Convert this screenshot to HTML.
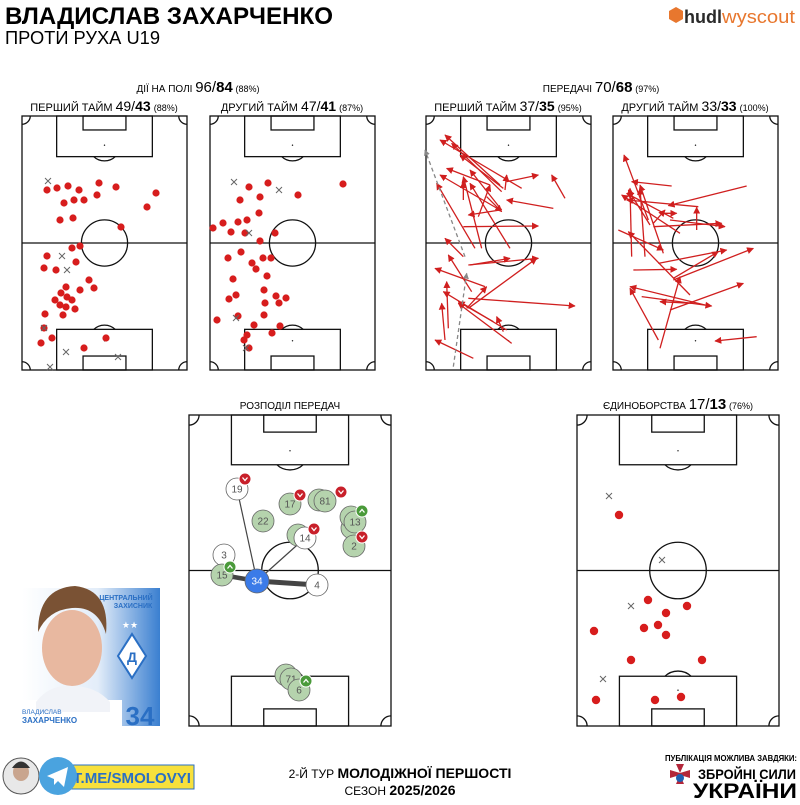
<!DOCTYPE html>
<html><head><meta charset="utf-8">
<style>
html,body{margin:0;padding:0;background:#fff;}
body{width:800px;height:800px;overflow:hidden;position:relative;font-family:"Liberation Sans","Noto Sans CJK SC",sans-serif;color:#111;}
svg text{font-family:"Liberation Sans",sans-serif;}
</style></head><body>
<svg id="s" width="800" height="800" viewBox="0 0 800 800" xmlns="http://www.w3.org/2000/svg">
<defs>
<marker id="ar" viewBox="0 0 10 10" refX="9" refY="5" markerWidth="7" markerHeight="7" markerUnits="userSpaceOnUse" orient="auto"><path d="M0,0L10,5L0,10z" fill="#d01f1f"/></marker>
<marker id="ag" viewBox="0 0 10 10" refX="9" refY="5" markerWidth="6" markerHeight="6" markerUnits="userSpaceOnUse" orient="auto"><path d="M0,0L10,5L0,10z" fill="#888"/></marker>
<linearGradient id="cardg" x1="0" y1="0" x2="1" y2="0"><stop offset="0" stop-color="#ffffff"/><stop offset="0.55" stop-color="#e3edf9"/><stop offset="1" stop-color="#3a7fd0"/></linearGradient>
</defs>
<!-- header -->
<text x="5" y="24" font-size="24" font-weight="bold" textLength="328" lengthAdjust="spacingAndGlyphs">ВЛАДИСЛАВ ЗАХАРЧЕНКО</text>
<text x="5" y="44" font-size="18" textLength="155" lengthAdjust="spacingAndGlyphs">ПРОТИ РУХА U19</text>
<path d="M669,11 l7,-4 l7,4 v8 l-7,4 l-7,-4z" fill="#e8772e"/>
<text x="684" y="23" font-size="18" font-weight="bold" fill="#2a2a2a">hudl</text>
<text x="722" y="23" font-size="18" fill="#e8772e" textLength="73" lengthAdjust="spacingAndGlyphs">wyscout</text>

<!-- section titles -->
<text x="198" y="92" text-anchor="middle" font-size="10">ДІЇ НА ПОЛІ <tspan font-size="15">96/</tspan><tspan font-size="15" font-weight="bold">84</tspan> <tspan font-size="9">(88%)</tspan></text>
<text x="104" y="111" text-anchor="middle" font-size="11">ПЕРШИЙ ТАЙМ <tspan font-size="14">49/</tspan><tspan font-size="14" font-weight="bold">43</tspan> <tspan font-size="9">(88%)</tspan></text>
<text x="292" y="111" text-anchor="middle" font-size="11">ДРУГИЙ ТАЙМ <tspan font-size="14">47/</tspan><tspan font-size="14" font-weight="bold">41</tspan> <tspan font-size="9">(87%)</tspan></text>
<text x="601" y="92" text-anchor="middle" font-size="10">ПЕРЕДАЧІ <tspan font-size="15">70/</tspan><tspan font-size="15" font-weight="bold">68</tspan> <tspan font-size="9">(97%)</tspan></text>
<text x="508" y="111" text-anchor="middle" font-size="11">ПЕРШИЙ ТАЙМ <tspan font-size="14">37/</tspan><tspan font-size="14" font-weight="bold">35</tspan> <tspan font-size="9">(95%)</tspan></text>
<text x="695" y="111" text-anchor="middle" font-size="11">ДРУГИЙ ТАЙМ <tspan font-size="14">33/</tspan><tspan font-size="14" font-weight="bold">33</tspan> <tspan font-size="9">(100%)</tspan></text>
<text x="290" y="409" text-anchor="middle" font-size="10">РОЗПОДІЛ ПЕРЕДАЧ</text>
<text x="678" y="409" text-anchor="middle" font-size="10">ЄДИНОБОРСТВА <tspan font-size="15">17/</tspan><tspan font-size="15" font-weight="bold">13</tspan> <tspan font-size="9">(76%)</tspan></text>

<g id="pitches"></g>
<g id="marks"></g>

<!-- pass network -->
<g id="net" font-size="10" text-anchor="middle"></g>

<!-- player card -->
<g>
<rect x="22" y="588" width="138" height="138" fill="url(#cardg)"/>
<rect x="22" y="700" width="100" height="26" fill="#fff"/>
<ellipse cx="72" cy="648" rx="30" ry="38" fill="#e8b8a0"/>
<path d="M38,632 Q38,588 75,586 Q110,590 106,634 Q98,606 72,608 Q48,610 38,632z" fill="#7a5234"/>
<path d="M36,702 Q50,684 72,686 Q96,686 110,702 L110,712 L36,712z" fill="#f1f3f8"/>
<text x="126" y="600" font-size="7" fill="#2a6fc4" text-anchor="middle" font-weight="bold">ЦЕНТРАЛЬНИЙ</text>
<text x="133" y="608" font-size="7" fill="#2a6fc4" text-anchor="middle" font-weight="bold">ЗАХИСНИК</text>
<path d="M132,634 L146,656 L132,678 L118,656z" fill="#fff" stroke="#2a6fc4" stroke-width="2"/>
<text x="132" y="662" font-size="14" fill="#2a6fc4" text-anchor="middle" font-weight="bold">Д</text>
<text x="130" y="628" font-size="9" fill="#fff" text-anchor="middle">★★</text>
<text x="22" y="714" font-size="6.5" fill="#2a6fc4">ВЛАДИСЛАВ</text>
<text x="22" y="723" font-size="8" fill="#2a6fc4" font-weight="bold">ЗАХАРЧЕНКО</text>
<text x="140" y="725" font-size="26" fill="#2a6fc4" text-anchor="middle" font-weight="bold">34</text>
</g>

<!-- footer -->
<circle cx="21" cy="776" r="18" fill="#e8e8e8" stroke="#555"/>
<ellipse cx="21" cy="772" rx="8" ry="9" fill="#c9a58e"/>
<path d="M12,768 Q21,755 30,768z" fill="#333"/>
<rect x="62" y="765" width="132" height="24" fill="#f7e03c" stroke="#2a6fc4" stroke-width="1"/>
<text x="132" y="783" font-size="15" font-weight="bold" fill="#2a6fc4" text-anchor="middle" textLength="118" lengthAdjust="spacingAndGlyphs">T.ME/SMOLOVYI</text>
<circle cx="58" cy="776" r="19" fill="#4aa3df"/>
<path d="M47,776 L68,767 L64,787 L58,781 L54,785 L54,779z" fill="#fff"/>
<text x="400" y="778" font-size="12" text-anchor="middle">2-Й ТУР <tspan font-weight="bold" font-size="14">МОЛОДІЖНОЇ ПЕРШОСТІ</tspan></text>
<text x="400" y="795" font-size="12" text-anchor="middle">СЕЗОН <tspan font-weight="bold" font-size="14">2025/2026</tspan></text>
<text x="797" y="761" font-size="8" font-weight="bold" text-anchor="end" textLength="132" lengthAdjust="spacingAndGlyphs">ПУБЛІКАЦІЯ МОЖЛИВА ЗАВДЯКИ:</text>
<path d="M676,764 h8 l-4,9 l10,-3 v8 l-10,-3 l4,9 h-8 l4,-9 l-10,3 v-8 l10,3z" fill="#b3263a"/>
<circle cx="680" cy="778" r="4" fill="#1f5fb0"/>
<text x="698" y="779" font-size="14" font-weight="bold" textLength="98" lengthAdjust="spacingAndGlyphs">ЗБРОЙНІ СИЛИ</text>
<text x="693" y="798" font-size="21" font-weight="bold" textLength="104" lengthAdjust="spacingAndGlyphs">УКРАЇНИ</text>
</svg>
<script>
const NS="http://www.w3.org/2000/svg";
const P=document.getElementById('pitches'),M=document.getElementById('marks'),N=document.getElementById('net');
function el(par,t,a){const e=document.createElementNS(NS,t);for(const k in a)e.setAttribute(k,a[k]);par.appendChild(e);return e;}
let cid=0;
function pitch(x,y,w,h){
 const id='c'+(cid++);
 const cp=el(el(P,'defs',{}),'clipPath',{id:id});el(cp,'rect',{x:x,y:y,width:w,height:h});
 const g=el(P,'g',{fill:'none',stroke:'#111','stroke-width':1.3});
 const g2=el(g,'g',{'clip-path':'url(#'+id+')'});
 const c=0.05*w;
 [[x,y],[x+w,y],[x,y+h],[x+w,y+h]].forEach(p=>el(g2,'circle',{cx:p[0],cy:p[1],r:c}));
 const cx=x+w/2,ar=0.095*w;
 el(g,'circle',{cx:cx,cy:y+0.115*h,r:ar});
 el(g,'circle',{cx:cx,cy:y+h-0.115*h,r:ar});
 const bx=x+0.21*w,bw=0.58*w,bh=0.16*h,sx=x+0.37*w,sw=0.26*w,sh=0.055*h;
 el(g,'rect',{x:bx,y:y,width:bw,height:bh,fill:'#fff'});
 el(g,'rect',{x:bx,y:y+h-bh,width:bw,height:bh,fill:'#fff'});
 el(g,'rect',{x:sx,y:y,width:sw,height:sh});
 el(g,'rect',{x:sx,y:y+h-sh,width:sw,height:sh});
 el(g,'circle',{cx:cx,cy:y+0.115*h,r:0.7,fill:'#111',stroke:'none'});
 el(g,'circle',{cx:cx,cy:y+h-0.115*h,r:0.7,fill:'#111',stroke:'none'});
 el(g,'line',{x1:x,y1:y+h/2,x2:x+w,y2:y+h/2});
 el(g,'circle',{cx:cx,cy:y+h/2,r:0.14*w});
 el(g,'rect',{x:x,y:y,width:w,height:h});
}
pitch(22,116,165,254);pitch(210,116,165,254);pitch(426,116,165,254);pitch(613,116,165,254);
pitch(189,415,202,311);pitch(577,415,202,311);

function dots(a,r){a.forEach(p=>el(M,'circle',{cx:p[0],cy:p[1],r:r||3.6,fill:'#d71d1d'}));}
function crosses(a){a.forEach(p=>{const s=3;el(M,'path',{d:`M${p[0]-s},${p[1]-s}L${p[0]+s},${p[1]+s}M${p[0]+s},${p[1]-s}L${p[0]-s},${p[1]+s}`,stroke:'#666','stroke-width':1,fill:'none'});});}
dots([[47,190],[57,188],[68,186],[79,190],[99,183],[116,187],[97,195],[64,203],[74,200],[84,200],[156,193],[147,207],[60,220],[73,218],[121,227],[47,256],[72,248],[80,246],[76,262],[44,268],[56,270],[89,280],[94,288],[80,290],[66,287],[61,293],[67,297],[72,300],[55,300],[60,305],[66,307],[75,309],[63,315],[45,314],[44,328],[41,343],[84,348],[106,338],[52,338]]);
crosses([[48,181],[62,256],[67,270],[44,328],[66,352],[118,357],[50,367]]);
dots([[268,183],[249,187],[260,197],[240,200],[343,184],[298,195],[259,213],[247,220],[238,222],[223,223],[213,228],[231,232],[245,233],[275,233],[260,241],[241,252],[228,258],[263,258],[271,258],[252,263],[256,269],[267,276],[233,279],[236,295],[264,290],[276,296],[279,303],[265,303],[286,298],[238,316],[244,340],[264,315],[254,325],[280,326],[272,333],[217,320],[229,299],[249,348],[247,335]]);
crosses([[234,182],[279,190],[249,233],[246,348],[236,318]]);
dots([[619,515],[648,600],[687,606],[666,613],[594,631],[644,628],[658,625],[666,635],[631,660],[702,660],[596,700],[655,700],[681,697]],4.2);
crosses([[609,496],[662,560],[631,606],[603,679]]);

function arrows(a,ox,oy,col,m,dash){a.forEach(s=>{const o={x1:ox+s[0]/3,y1:oy+s[1]/3,x2:ox+s[2]/3,y2:oy+s[3]/3,stroke:col,'stroke-width':1.3,'marker-end':'url(#'+m+')'};if(dash)o['stroke-dasharray']='4 3';el(M,'line',o);});}
arrows([[305,235,60,90],[245,245,95,100],[240,225,75,75],[255,240,260,195],[260,215,355,195],[240,300,60,195],[245,300,150,180],[210,225,80,175],[400,295,260,270],[435,265,395,195],[165,415,50,220],[185,415,130,200],[130,270,130,215],[175,320,210,225],[130,350,355,348],[270,415,150,220],[240,300,145,315],[145,465,355,445],[150,465,270,445],[130,440,75,385],[195,530,45,475],[155,545,85,435],[145,565,465,588],[145,595,350,445],[140,595,200,530],[85,655,80,515],[75,690,65,580],[260,660,70,545],[275,700,115,580],[160,745,45,690],[250,665,230,620],[220,635,115,575],[200,260,245,305],[250,235,120,135]],420,110,'#d01f1f','ar');
arrows([[100,770,140,490],[135,440,15,120]],420,110,'#888','ag',true);
arrows([[685,330,612,135],[755,228,635,215],[980,228,745,287],[835,290,620,270],[830,360,830,292],[780,370,605,255],[690,345,625,240],[720,310,770,310],[750,330,915,350],[700,340,735,300],[635,440,630,235],[675,440,660,235],[730,430,660,225],[595,360,730,420],[640,480,770,478],[810,555,625,365],[715,460,920,420],[760,510,1000,415],[760,505,895,425],[720,715,780,500],[715,690,630,535],[750,600,970,520],[665,560,875,588],[820,580,720,575],[1010,680,885,693],[855,585,630,530],[700,350,905,340],[760,325,620,250]],420,110,'#d01f1f','ar');

[[257,581,237,489,1.2],[257,581,305,538,1.2],[257,581,222,575,4.5],[257,581,317,585,5]].forEach(l=>el(N,'line',{x1:l[0],y1:l[1],x2:l[2],y2:l[3],stroke:'#444','stroke-width':l[4]}));
function node(x,y,t,f,r){el(N,'circle',{cx:x,cy:y,r:r||11,fill:f,stroke:'#666','stroke-width':0.8});if(t){const e=el(N,'text',{x:x,y:y+3.5,fill:f=='#3b7be8'?'#fff':'#555'});e.textContent=t;}}
const G='#b5d3ad',W='#fff';
node(319,500,'',G);node(298,535,'',G);node(352,528,'',G);node(351,517,'',G);
node(290,504,'17',G);node(325,501,'81',G);node(263,521,'22',G);node(355,522,'13',G);node(354,546,'2',G);
node(237,489,'19',W);node(305,538,'14',W);node(224,555,'3',W);node(222,575,'15',G);node(317,585,'4',W);
node(286,675,'',G);node(291,679,'71',G);node(299,690,'6',G);
node(257,581,'34','#3b7be8',12);
function badge(x,y,up){el(N,'circle',{cx:x,cy:y,r:6,fill:up?'#4a9a3a':'#c8202a',stroke:'#fff','stroke-width':1});el(N,'path',{d:up?`M${x-2.5},${y+1.5}L${x},${y-1.5}L${x+2.5},${y+1.5}`:`M${x-2.5},${y-1.5}L${x},${y+1.5}L${x+2.5},${y-1.5}`,stroke:'#fff','stroke-width':1.3,fill:'none'});}
badge(245,479,0);badge(300,495,0);badge(341,492,0);badge(314,529,0);badge(362,537,0);badge(362,511,1);badge(230,567,1);badge(306,681,1);
</script>
</body></html>
